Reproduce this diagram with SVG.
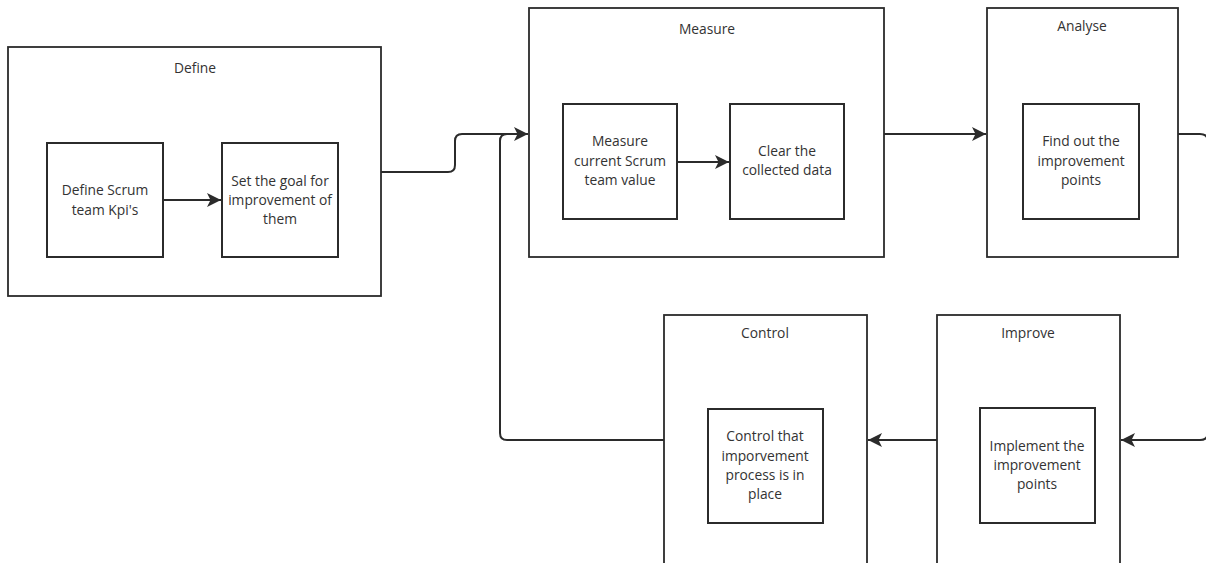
<svg xmlns="http://www.w3.org/2000/svg" width="1206" height="563" viewBox="0 0 1206 563">
<defs>
<marker id="arr" markerWidth="15" markerHeight="14" refX="14" refY="7" orient="auto" markerUnits="userSpaceOnUse">
<path d="M0,0 L14,7 L0,14 L3.5,7 Z" fill="#2b2b2b"/>
</marker>
<style>
.outer{fill:#fff;stroke:#2b2b2b;stroke-width:1.8}
.inner{fill:#fff;stroke:#2b2b2b;stroke-width:2}
.t{font-family:"Open Sans","Liberation Sans",sans-serif;font-size:13.8px;fill:#333;text-anchor:middle}
.c{fill:none;stroke:#2b2b2b;stroke-width:2}
</style>
</defs>
<rect width="1206" height="563" fill="#fff"/>
<g id="define">
<rect class="outer" x="8" y="47" width="373" height="249"/>
<text class="t" x="195" y="73">Define</text>
</g>
<g id="define-kpi">
<rect class="inner" x="47" y="143" width="116" height="114"/>
<text class="t" x="105" y="195">Define Scrum</text>
<text class="t" x="105" y="215">team Kpi's</text>
</g>
<g id="set-goal">
<rect class="inner" x="222" y="143" width="116" height="114"/>
<text class="t" x="280" y="186">Set the goal for</text>
<text class="t" x="280" y="205">improvement of</text>
<text class="t" x="280" y="224">them</text>
</g>
<g id="measure">
<rect class="outer" x="529" y="8" width="355" height="249"/>
<text class="t" x="707" y="34">Measure</text>
</g>
<g id="measure-current">
<rect class="inner" x="563" y="104" width="114" height="115"/>
<text class="t" x="620" y="146">Measure</text>
<text class="t" x="620" y="166">current Scrum</text>
<text class="t" x="620" y="185">team value</text>
</g>
<g id="clear-data">
<rect class="inner" x="730" y="104" width="114" height="115"/>
<text class="t" x="787" y="156">Clear the</text>
<text class="t" x="787" y="175">collected data</text>
</g>
<g id="analyse">
<rect class="outer" x="987" y="8" width="191" height="249"/>
<text class="t" x="1082" y="31">Analyse</text>
</g>
<g id="find-points">
<rect class="inner" x="1023" y="104" width="116" height="115"/>
<text class="t" x="1081" y="146">Find out the</text>
<text class="t" x="1081" y="166">improvement</text>
<text class="t" x="1081" y="185">points</text>
</g>
<g id="control">
<rect class="outer" x="664" y="315" width="203" height="270"/>
<text class="t" x="765" y="338">Control</text>
</g>
<g id="control-inner">
<rect class="inner" x="708" y="409" width="115" height="114"/>
<text class="t" x="765" y="441">Control that</text>
<text class="t" x="765" y="461">imporvement</text>
<text class="t" x="765" y="480">process is in</text>
<text class="t" x="765" y="499">place</text>
</g>
<g id="improve">
<rect class="outer" x="937" y="315" width="183" height="270"/>
<text class="t" x="1028" y="338">Improve</text>
</g>
<g id="implement">
<rect class="inner" x="980" y="408" width="115" height="115"/>
<text class="t" x="1037" y="451">Implement the</text>
<text class="t" x="1037" y="470">improvement</text>
<text class="t" x="1037" y="489">points</text>
</g>
<g id="connectors">
<path class="c" d="M163,200 H221" marker-end="url(#arr)"/>
<path class="c" d="M677,162 H729" marker-end="url(#arr)"/>
<path class="c" d="M381,172 H448 Q455,172 455,165 V141 Q455,134 462,134 H528" marker-end="url(#arr)"/>
<path class="c" d="M664,440 H507 Q500,440 500,433 V141 Q500,134 507,134 H528"/>
<path class="c" d="M884,134 H986" marker-end="url(#arr)"/>
<path class="c" d="M1178,134 H1200 Q1208,134 1208,142 V432 Q1208,440 1200,440 H1121" marker-end="url(#arr)"/>
<path class="c" d="M937,440 H868" marker-end="url(#arr)"/>
</g>
</svg>
